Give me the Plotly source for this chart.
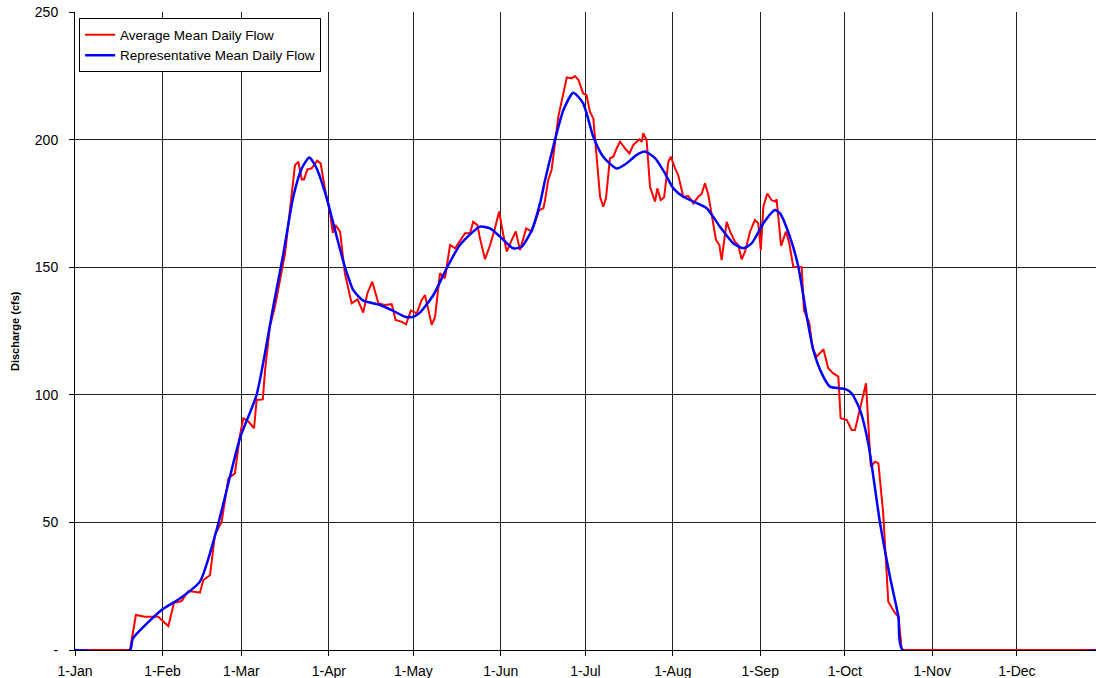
import plotly.graph_objects as go

# Month tick positions (day of year) and labels
month_days = [0, 31, 59, 90, 120, 151, 181, 212, 243, 273, 304, 334]
month_labels = ["1-Jan", "1-Feb", "1-Mar", "1-Apr", "1-May", "1-Jun",
                "1-Jul", "1-Aug", "1-Sep", "1-Oct", "1-Nov", "1-Dec"]

y_ticks = [0, 50, 100, 150, 200, 250]
y_tick_labels = ["-", "50", "100", "150", "200", "250"]

# Average Mean Daily Flow (day of year, cfs)
avg_days = [0, 19.5, 21.6, 24.8, 26.6, 29.5, 33.1, 35.1, 37.8, 40.2, 44.3, 45.5, 47.9,
            49.6, 52.0, 54.4, 56.7, 58.5, 59.7, 61.5, 63.5, 64.4, 66.6, 67.4, 69.1,
            70.9, 74.5, 76.8, 78.0, 79.2, 80.4, 81.2, 82.4, 83.9, 85.9, 87.1, 88.7,
            90.4, 91.4, 92.4, 94.0, 95.7, 98.1, 100.2, 102.2, 103.7, 105.4, 107.6,
            109.9, 112.3, 113.7, 115.9, 117.4, 119.1, 121.2, 122.9, 124.1, 126.5,
            127.7, 129.4, 131.2, 133.0, 134.8, 137.1, 138.3, 140.1, 141.2, 142.7,
            143.6, 145.4, 147.2, 148.9, 150.4, 151.9, 153.1, 154.9, 156.3, 157.8,
            160.0, 162.0, 164.6, 166.1, 166.7, 167.8, 169.0, 171.4, 174.4, 176.1,
            177.3, 178.5, 180.2, 181.4, 182.6, 183.8, 185.0, 186.2, 187.3, 188.3,
            189.7, 190.9, 192.1, 193.3, 195.0, 196.6, 198.0, 199.2, 200.1, 201.0,
            201.5, 202.7, 203.9, 205.7, 206.5, 207.7, 208.9, 210.4, 211.3, 212.8,
            213.9, 215.7, 217.5, 219.3, 221.0, 222.2, 223.4, 224.6, 225.8, 227.3,
            228.5, 229.3, 231.1, 232.3, 234.0, 235.2, 236.4, 237.6, 239.4, 241.1,
            242.3, 243.2, 244.1, 245.5, 247.0, 248.2, 248.8, 250.4, 252.1, 253.3,
            254.7, 257.7, 258.5, 260.4, 261.6, 263.0, 265.4, 267.1, 268.9, 270.7,
            271.5, 273.7, 275.4, 276.6, 280.5, 281.0, 282.2, 283.7, 284.9, 286.6,
            288.4, 290.8, 292.0, 293.2, 365]
avg_flow = [0, 0, 13.7, 13.0, 13.0, 13.0, 9.4, 18.5, 19.2, 23.1, 22.5, 27.4, 29.4,
            45.0, 50.3, 67.3, 69.2, 84.2, 90.8, 89.5, 86.9, 98.0, 98.2, 109.7, 126.7,
            134.5, 155.4, 177.6, 190.0, 191.3, 184.4, 184.4, 188.3, 188.7, 191.7, 190.7, 180.3,
            171.8, 163.5, 166.5, 163.9, 147.6, 135.8, 137.4, 132.2, 139.8, 144.3, 135.8,
            135.2, 135.5, 129.3, 128.6, 127.6, 133.0, 131.9, 137.1, 139.1, 127.4,
            130.6, 147.6, 145.7, 158.7, 157.4, 161.3, 163.3, 163.3, 167.8, 166.5,
            161.3, 153.1, 158.7, 165.2, 171.8, 162.6, 156.1, 160.7, 164.0, 156.7,
            165.2, 164.0, 172.4, 173.1, 176.3, 184.2, 188.1, 209.0, 224.4, 224.0,
            224.9, 223.4, 218.1, 217.5, 210.9, 208.3, 193.3, 177.6, 173.7, 177.0,
            192.7, 193.3, 196.6, 199.2, 196.6, 194.6, 197.9, 199.2, 200.1, 199.2,
            202.5, 199.8, 181.5, 175.7, 180.9, 176.3, 177.3, 191.3, 193.3, 188.7,
            186.1, 177.6, 177.9, 175.0, 177.6, 178.7, 182.9, 178.3, 170.4, 160.7,
            158.7, 152.8, 167.8, 164.0, 160.0, 158.7, 153.1, 156.1, 164.0, 168.5,
            167.2, 156.7, 173.7, 178.9, 176.3, 175.7, 176.6, 158.3, 164.0, 159.4,
            150.2, 150.0, 133.2, 128.0, 118.2, 114.9, 117.8, 110.4, 108.4, 107.1,
            90.8, 90.1, 86.2, 86.2, 104.5, 95.3, 71.8, 73.8, 73.1, 53.6,
            18.9, 14.4, 13.0, 0, 0]

# Representative Mean Daily Flow (day of year, cfs)
rep_days = [0, 19.5, 20.5, 30.7, 37.2, 44.3, 50.2, 58.5, 64.4, 70.3, 73.9, 77.4,
            80.4, 83.1, 85.7, 89.3, 92.8, 95.7, 98.7, 102.2, 108.2, 112.3, 117.0,
            120.0, 122.3, 127.1, 131.8, 136.5, 143.6, 147.2, 150.7, 155.4, 158.4,
            162.0, 164.9, 166.7, 169.6, 173.2, 176.7, 180.2, 183.8, 187.3, 192.1,
            195.6, 199.2, 202.1, 205.7, 209.2, 212.2, 215.7, 219.3, 224.0, 228.7,
            233.4, 237.0, 240.0, 244.1, 248.2, 250.0, 253.5, 256.5, 259.5, 261.8,
            264.8, 267.7, 273.0, 275.4, 278.4, 281.3, 285.5, 289.0, 292.0, 293.5, 365]
rep_flow = [0, 0, 4.5, 15.7, 20.2, 26.8, 47.0, 83.0, 100.0, 134.5, 155.4, 177.6,
            188.7, 193.0, 188.7, 176.9, 162.0, 150.2, 141.0, 136.9, 135.2, 133.2, 130.6,
            130.6, 132.2, 139.1, 149.6, 158.7, 165.9, 165.2, 162.0, 157.4, 158.0,
            164.6, 175.0, 184.2, 197.3, 211.6, 218.4, 214.2, 201.1, 193.3, 188.7,
            190.7, 194.0, 195.3, 192.7, 186.8, 180.9, 177.6, 175.7, 173.1, 165.9,
            159.4, 157.4, 159.4, 167.2, 172.4, 171.1, 162.0, 150.2, 130.6, 117.6,
            108.4, 103.2, 102.3, 100.6, 94.0, 81.0, 49.6, 28.7, 13.0, 0, 0]

fig = go.Figure()
fig.add_trace(go.Scatter(
    x=avg_days, y=avg_flow, mode="lines", name="Average Mean Daily Flow",
    line=dict(color="#ff0000", width=2), cliponaxis=False,
))
fig.add_trace(go.Scatter(
    x=rep_days, y=rep_flow, mode="lines", name="Representative Mean Daily Flow",
    line=dict(color="#0000ff", width=2.5, shape="spline", smoothing=0.6), cliponaxis=False,
))

font_family = "Liberation Sans, Arial, sans-serif"

fig.update_layout(
    width=1096, height=678,
    margin=dict(l=75, r=0, t=12, b=28),
    paper_bgcolor="white", plot_bgcolor="white",
    font=dict(family=font_family, size=14, color="black"),
    showlegend=True,
    legend=dict(
        x=0.004, y=0.99, xanchor="left", yanchor="top",
        bgcolor="white", bordercolor="black", borderwidth=1,
        font=dict(family=font_family, size=13.5, color="black"),
        tracegroupgap=0, itemwidth=30,
    ),
    xaxis=dict(
        range=[0, 362.06], tickmode="array", tickvals=month_days, ticktext=month_labels,
        showgrid=True, gridcolor="#222222", gridwidth=1,
        showline=True, linecolor="black", linewidth=1,
        ticks="outside", ticklen=5, tickcolor="black",
        zeroline=False, tickfont=dict(size=14), ticklabelstandoff=3,
    ),
    yaxis=dict(
        range=[0, 250], tickmode="array", tickvals=y_ticks, ticktext=y_tick_labels,
        showgrid=True, gridcolor="#222222", gridwidth=1,
        showline=True, linecolor="black", linewidth=1,
        ticks="outside", ticklen=5, tickcolor="black",
        zeroline=False, tickfont=dict(size=14), ticklabelstandoff=8,
    ),
    annotations=[dict(
        text="<b>Discharge (cfs)</b>", textangle=-90, showarrow=False,
        xref="paper", yref="paper", x=(15 - 75) / 1021, y=0.5,
        xanchor="center", yanchor="middle", font=dict(size=11, family=font_family),
    )],
)

fig.write_html(
    "out.html",
    config={"displayModeBar": False},
    post_script="document.body.style.margin='0';document.body.style.overflow='hidden';",
)
